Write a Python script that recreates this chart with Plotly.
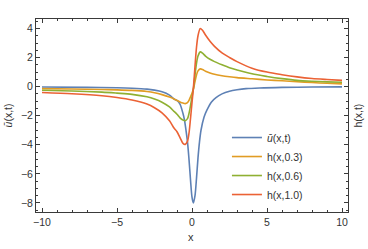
import plotly.graph_objects as go

x_u = [-10, -7, -5, -4, -3, -2.5, -2, -1.5, -1.2, -1.0, -0.8, -0.6, -0.5, -0.4, -0.3, -0.2, -0.1,
       0.0, 0.09, 0.2, 0.3, 0.4, 0.5, 0.6, 0.8, 1.0, 1.3, 1.6, 2.0, 2.5, 3.0, 3.6, 4.5, 6, 8, 10]
u_vals = [-0.03, -0.05, -0.08, -0.11, -0.17, -0.24, -0.35, -0.58, -0.85, -0.95, -1.2, -1.85, -2.3, -3.0, -3.8, -5.0, -6.4,
          -7.6, -8.0, -7.5, -6.3, -4.9, -3.8, -3.0, -2.1, -1.6, -1.05, -0.75, -0.5, -0.32, -0.22, -0.14, -0.09, -0.05, -0.03, -0.02]

x_h = [-10, -8, -6, -5, -4, -3, -2.5, -2, -1.5, -1.2, -1.0, -0.8, -0.6, -0.45, -0.3, -0.2, -0.1,
       0.0, 0.1, 0.2, 0.3, 0.4, 0.55, 0.7, 0.9, 1.2, 1.5, 2.0, 2.5, 3, 4, 5, 6, 7, 8, 9, 10]
h03 = [-0.14, -0.16, -0.2, -0.22, -0.26, -0.34, -0.42, -0.55, -0.72, -0.85, -0.95, -1.05, -1.13, -1.17, -1.1, -0.95, -0.7,
       -0.45, -0.15, 0.35, 0.8, 1.08, 1.22, 1.18, 1.06, 0.94, 0.85, 0.75, 0.68, 0.62, 0.54, 0.46, 0.4, 0.34, 0.28, 0.23, 0.19]
h06 = [-0.25, -0.3, -0.38, -0.45, -0.53, -0.7, -0.85, -1.07, -1.4, -1.7, -1.9, -2.15, -2.3, -2.34, -2.2, -1.85, -1.3,
       -0.7, -0.1, 0.8, 1.6, 2.1, 2.39, 2.3, 2.1, 1.88, 1.72, 1.5, 1.3, 1.15, 0.88, 0.7, 0.55, 0.43, 0.37, 0.33, 0.3]
h10 = [-0.40, -0.49, -0.63, -0.75, -0.92, -1.2, -1.45, -1.8, -2.35, -2.85, -3.1, -3.5, -3.9, -3.97, -3.75, -3.2, -2.2,
       -1.1, 0.0, 1.4, 2.7, 3.5, 4.0, 3.88, 3.55, 3.12, 2.77, 2.32, 2.0, 1.72, 1.27, 1.0, 0.82, 0.67, 0.56, 0.49, 0.43]

names = ["<i>ū</i>(x,t)", "h(x,0.3)", "h(x,0.6)", "h(x,1.0)"]
colors = ["#5E81B5", "#E19C24", "#8FB032", "#EB6235"]

x_ticks = [-10, -5, 0, 5, 10]
y_ticks = [-8, -6, -4, -2, 0, 2, 4]
y_labels = ["\u22128", "\u22126", "\u22124", "\u22122", "0", "2", "4"]
x_labels = ["\u221210", "\u22125", "0", "5", "10"]

fig = go.Figure()
series = [(x_u, u_vals), (x_h, h03), (x_h, h06), (x_h, h10)]
for (xs, ys), nm, col in zip(series, names, colors):
    fig.add_trace(go.Scatter(x=xs, y=ys, mode="lines", name=nm,
                             line=dict(color=col, width=1.6, shape="spline", smoothing=0.8)))

frame = "#3a3a3a"
fam = "Liberation Sans, Arial, sans-serif"
tickfont = dict(family=fam, size=10.5, color="#333333")
fig.update_layout(
    width=368, height=249,
    margin=dict(l=36, r=20, t=19, b=37),
    paper_bgcolor="white", plot_bgcolor="white",
    showlegend=True,
    legend=dict(x=0.612, y=0.461, xanchor="left", yanchor="top",
                bgcolor="rgba(0,0,0,0)", font=dict(family=fam, size=10.5, color="#333333"),
                itemwidth=30, tracegroupgap=0),
    xaxis=dict(range=[-10.4, 10.4], tickvals=x_ticks, ticktext=x_labels, showgrid=False, zeroline=False,
               showline=True, linecolor=frame, linewidth=1, mirror="allticks",
               ticks="inside", ticklen=4, tickcolor=frame, tickfont=tickfont,
               minor=dict(dtick=1, ticks="inside", ticklen=2, tickcolor=frame, showgrid=False)),
    yaxis=dict(range=[-8.62, 4.65], tickvals=y_ticks, ticktext=y_labels, showgrid=False, zeroline=False,
               showline=True, linecolor=frame, linewidth=1, mirror="allticks",
               ticks="inside", ticklen=4, tickcolor=frame, tickfont=tickfont,
               minor=dict(dtick=0.5, ticks="inside", ticklen=2, tickcolor=frame, showgrid=False)),
    annotations=[
        dict(text="x", xref="paper", yref="paper", x=0.498, y=-0.13, xanchor="center", yanchor="middle",
             showarrow=False, font=dict(family=fam, size=11, color="#333333")),
        dict(text="<i>ū</i>(x,t)", xref="paper", yref="paper", x=-0.09, y=0.5, textangle=-90,
             xanchor="center", yanchor="middle", showarrow=False,
             font=dict(family=fam, size=10.5, color="#333333")),
        dict(text="h(x,t)", xref="paper", yref="paper", x=1.029, y=0.5, textangle=-90,
             xanchor="center", yanchor="middle", showarrow=False,
             font=dict(family=fam, size=10.5, color="#333333")),
    ],
)
fig.write_html("out.html", config={"displayModeBar": False},
               post_script="document.body.style.margin='0px';")
